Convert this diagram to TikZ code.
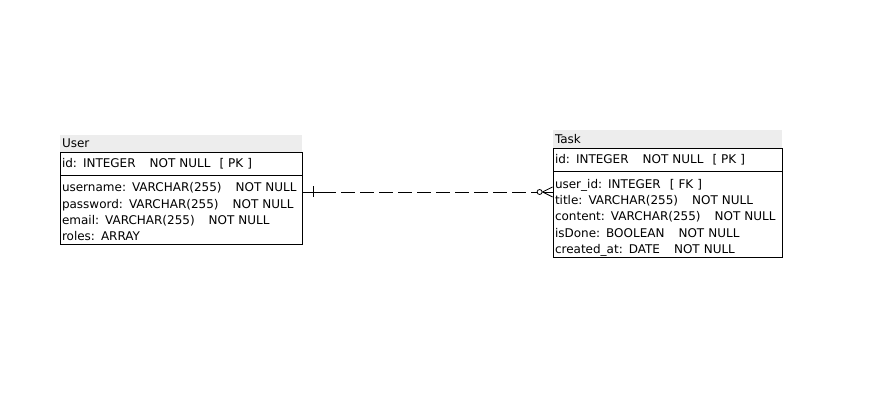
\documentclass[tikz,border=0pt]{standalone}
\usepackage{fontspec}
\setmainfont{DejaVu Sans}
\pgfdeclarelayer{edgelayer}
\pgfdeclarelayer{nodelayer}
\pgfsetlayers{edgelayer,nodelayer,main}
\newcommand{\gap}{\hspace{14pt}}
\newcommand{\firstrow}[1]{\rule{0pt}{#1}}
\tikzstyle{table_title}=[rectangle,fill=black!7,inner xsep=2pt,inner ysep=0pt,align=left,font=\fontsize{12}{16.3}\selectfont]
\tikzstyle{table_row}=[rectangle,fill=white,draw=black,line width=0.8pt,inner xsep=2pt,inner ysep=0pt,align=left,font=\fontsize{12}{16.3}\selectfont]
\tikzstyle{relation}=[draw=black,line width=0.8pt]
\tikzstyle{relation_dashed}=[draw=black,line width=0.8pt,dash pattern=on 14pt off 5pt]

\begin{document}
\begin{tikzpicture}[x=1pt,y=-1pt]
	\useasboundingbox (0,0) rectangle (871,403);
	\begin{pgfonlayer}{nodelayer}
		\node [style={table_title}, minimum width=242pt, text width=238pt, minimum height=17pt] (0) at (181, 143.5) {User};
		\node [style={table_row}, minimum width=242pt, text width=238pt, minimum height=23pt] (1) at (181, 163.5) {id: INTEGER\gap NOT NULL\hspace{9pt}[ PK ]};
		\node [style={table_row}, minimum width=242pt, text width=238pt, minimum height=69pt] (2) at (181, 209.5) {\firstrow{14pt}username: VARCHAR(255)\gap NOT NULL\\password: VARCHAR(255)\gap NOT NULL\\email: VARCHAR(255)\gap NOT NULL\\roles: ARRAY};
		\node [style={table_title}, minimum width=229pt, text width=225pt, minimum height=18pt] (3) at (667.5, 139) {Task};
		\node [style={table_row}, minimum width=229pt, text width=225pt, minimum height=23pt] (4) at (667.5, 159.5) {id: INTEGER\gap NOT NULL\hspace{9pt}[ PK ]};
		\node [style={table_row}, minimum width=229pt, text width=225pt, minimum height=86pt] (5) at (667.5, 214) {\firstrow{16.5pt}user\_id: INTEGER\hspace{9pt}[ FK ]\\title: VARCHAR(255)\gap NOT NULL\\content: VARCHAR(255)\gap NOT NULL\\isDone: BOOLEAN\gap NOT NULL\\created\_at: DATE\gap NOT NULL};
	\end{pgfonlayer}
	\coordinate (6) at ([yshift=17.5pt]2.east);
	\coordinate (7) at (6 -| 5.west);
	\begin{pgfonlayer}{edgelayer}
		\draw [style=relation] (6) -- ([xshift=34pt]6);
		\draw [style=relation_dashed] ([xshift=39pt]6) -- ([xshift=-15pt]7);
		\draw [style=relation] ([xshift=11pt,yshift=5.5pt]6) -- ([xshift=11pt,yshift=-5.5pt]6);
		\draw [style=relation] ([xshift=-13pt]7) circle (2.5pt);
		\draw [style=relation] ([yshift=5pt]7) -- ([xshift=-10pt]7) -- ([yshift=-5pt]7);
		\draw [style=relation] ([xshift=-10pt]7) -- (7);
	\end{pgfonlayer}
\end{tikzpicture}
\end{document}
